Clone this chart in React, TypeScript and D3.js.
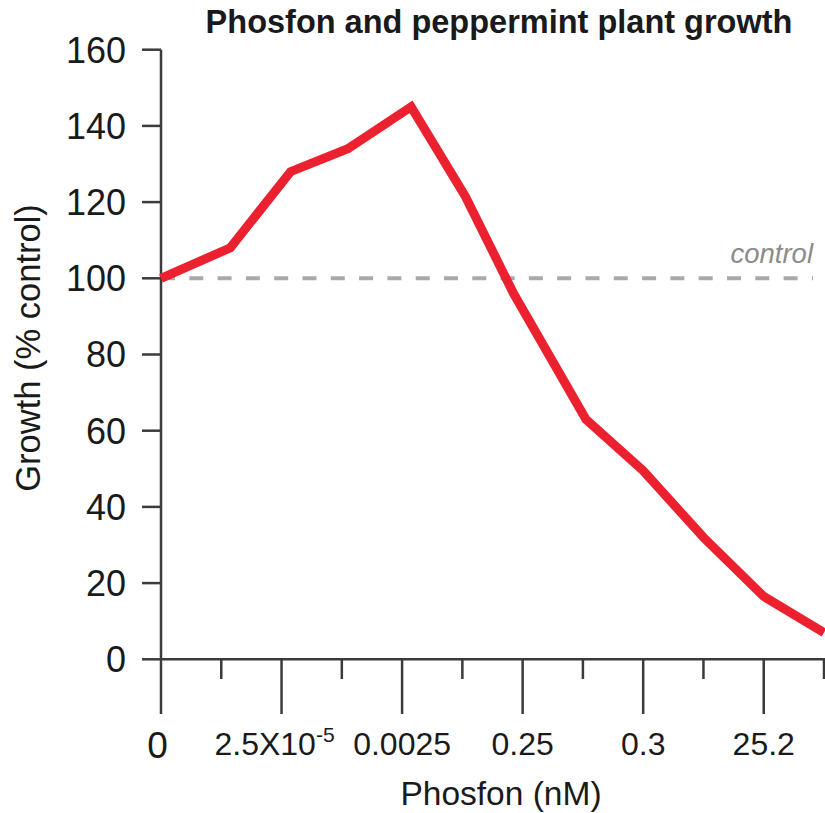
import React from "react";
import * as d3 from "d3";

// positions along the x axis, in tick units (one tick = one unit)
const xPositions = [0, 1.15, 2.15, 3.1, 4.15, 5.05, 5.85, 7.05, 8, 9, 10, 11];
const growth = [100, 108, 128, 134, 145, 121.5, 96, 63, 49.5, 32, 16.5, 7];
const yTicks = [0, 20, 40, 60, 80, 100, 120, 140, 160];
const xMajorTicks = [0, 2, 4, 6, 8, 10];
const xMinorTicks = [1, 3, 5, 7, 9, 11];
const xTickLabels = ["0", "2.5X10", "0.0025", "0.25", "0.3", "25.2"];
const controlValue = 100;

const W = 825;
const H = 813;

export default function App() {
  const x = d3.scaleLinear().domain([0, 11]).range([161, 824]);
  const y = d3.scaleLinear().domain([0, 160]).range([659.3, 49.7]);
  const line = d3
    .line<number>()
    .x((_, i) => x(xPositions[i]))
    .y((d) => y(d))
    .curve(d3.curveLinear);
  const axisColor = "#3b3b3b";
  const font = "'Liberation Sans', Arial, Helvetica, sans-serif";
  return (
    <svg
      width={W}
      height={H}
      style={{ position: "absolute", left: 0, top: 0, background: "#fff" }}
      fontFamily={font}
    >
      <text
        x={499}
        y={33}
        textAnchor="middle"
        fontWeight="bold"
        fontSize={32.5}
        fill="#1a1a1a"
      >
        Phosfon and peppermint plant growth
      </text>

      {/* control dashed line */}
      <line
        x1={x(0)}
        x2={813}
        y1={y(controlValue)}
        y2={y(controlValue)}
        stroke="#a9a9a9"
        strokeWidth={4}
        strokeDasharray="14 14.3"
      />
      <text
        x={813}
        y={263}
        textAnchor="end"
        fontStyle="italic"
        fontSize={27.5}
        fill="#8c8c8c"
      >
        control
      </text>

      {/* y axis */}
      <line x1={x(0)} x2={x(0)} y1={y(160)} y2={y(0)} stroke={axisColor} strokeWidth={2.5} />
      {yTicks.map((t) => (
        <g key={t}>
          <line x1={142} x2={x(0)} y1={y(t)} y2={y(t)} stroke={axisColor} strokeWidth={2.5} />
          <text
            x={126}
            y={y(t)}
            dy="0.36em"
            textAnchor="end"
            fontSize={36}
            fill="#1a1a1a"
          >
            {t}
          </text>
        </g>
      ))}

      {/* x axis */}
      <line x1={x(0)} x2={W} y1={y(0)} y2={y(0)} stroke={axisColor} strokeWidth={2.5} />
      {xMajorTicks.map((t, i) => (
        <g key={"M" + t}>
          <line x1={x(t)} x2={x(t)} y1={y(0)} y2={714} stroke={axisColor} strokeWidth={2.5} />
          <text
            x={x(t)}
            y={i === 0 ? 758 : 755}
            dx={i === 1 ? -7 : i === 0 ? -3.5 : 0}
            textAnchor="middle"
            fontSize={i === 0 ? 37 : 32}
            fill="#1a1a1a"
          >
            {xTickLabels[i]}
            {i === 1 ? (
              <tspan fontSize={21} dy={-13}>
                -5
              </tspan>
            ) : null}
          </text>
        </g>
      ))}
      {xMinorTicks.map((t) => (
        <line
          key={"m" + t}
          x1={x(t)}
          x2={x(t)}
          y1={y(0)}
          y2={679}
          stroke={axisColor}
          strokeWidth={2.5}
        />
      ))}

      {/* data line */}
      <path
        d={line(growth) || ""}
        fill="none"
        stroke="#ec2130"
        strokeWidth={9}
        strokeLinejoin="miter"
      />

      {/* axis titles */}
      <text x={501} y={805} textAnchor="middle" fontSize={33.5} fill="#1a1a1a">
        Phosfon (nM)
      </text>
      <text
        transform={`translate(40, 348) rotate(-90)`}
        textAnchor="middle"
        fontSize={34.5}
        fill="#1a1a1a"
      >
        Growth (% control)
      </text>
    </svg>
  );
}
